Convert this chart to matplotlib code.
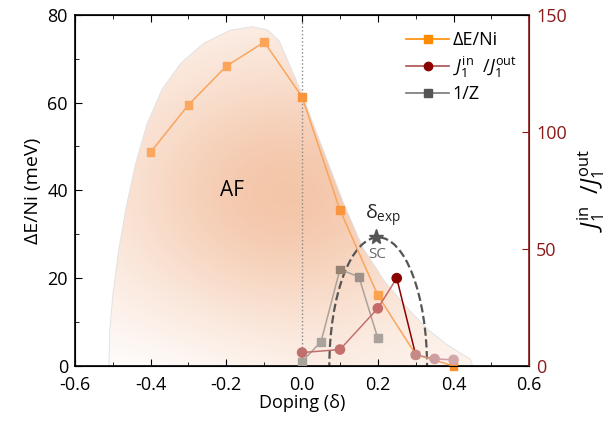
import numpy as np
import matplotlib
matplotlib.use("Agg")
import matplotlib.pyplot as plt
from matplotlib.patches import Polygon, Ellipse
from matplotlib.lines import Line2D
from matplotlib.ticker import MultipleLocator

plt.rcParams['font.family'] = ['Open Sans', 'DejaVu Sans']
plt.rcParams['mathtext.fontset'] = 'custom'
plt.rcParams['mathtext.rm'] = 'Open Sans'
plt.rcParams['mathtext.it'] = 'Open Sans:italic'

# data
dop_dE = [-0.4, -0.3, -0.2, -0.1, 0.0, 0.1, 0.2, 0.3, 0.4]
dE = [48.7, 59.5, 68.3, 73.8, 61.3, 35.5, 16.1, 2.6, 0.0]

dop_J = [0.0, 0.1, 0.2, 0.25, 0.3, 0.35, 0.4]
J_ratio = [5.7, 7.0, 24.6, 37.5, 4.7, 3.0, 2.6]

dop_Z = [0.0, 0.05, 0.1, 0.15, 0.2]
invZ = [1.0, 5.5, 22.0, 20.3, 6.3]

delta_exp = (0.195, 29.3)
sc_left, sc_right = 0.072, 0.33

# AF region outline (doping, meV)
af_x = [-0.51, -0.508, -0.50, -0.485, -0.465, -0.44, -0.41, -0.37, -0.32, -0.26,
        -0.19, -0.13, -0.09, -0.06, -0.03, 0.0, 0.03, 0.07, 0.11, 0.16, 0.22,
        0.28, 0.33, 0.38, 0.42, 0.445, 0.45]
af_y = [0, 8, 16, 26, 36, 46, 55, 63, 69, 73.5, 76.5, 77.3, 76.5, 74, 68, 62,
        55, 46, 37, 27, 19, 13, 8.5, 5, 2.8, 1.5, 0]

dE_colors = ['#fba85e', '#fba85e', '#fba55a', '#fba55a', '#f9963d', '#f9963d',
             '#fba24f', '#fba55a', '#f98f2a']
J_colors = ['#c0706c', '#c4716e', '#c46a68', '#8b0000', '#c48a88', '#cf9ea0', '#d4a8aa']
Z_colors = ['#a8a29c', '#aaa39d', '#96806f', '#a0908a', '#aaa29c']
dark_red = '#8b1a1a'

fig = plt.figure(figsize=(6.14, 4.24), dpi=100)
ax = fig.add_axes([0.122, 0.137, 0.740, 0.828])
ax2 = ax.twinx()

ax.set_xlim(-0.6, 0.6)
ax.set_ylim(0, 80)
ax2.set_ylim(0, 150)

# AF shaded region with radial gradient
gx, gy = np.meshgrid(np.linspace(-0.6, 0.6, 400), np.linspace(0, 80, 300))
t = np.exp(-((gx + 0.05) / 0.45) ** 2 - ((gy - 39) / 31) ** 2)
peak = np.array([244, 198, 169]) / 255.0
fade = np.clip(1 - np.exp(-(gy + 2) / 10) * np.clip((-gx + 0.1) / 0.6, 0, 1), 0, 1)
w = (0.15 + 0.85 * t) * fade
rgb = 1 - w[..., None] * (1 - peak)
im = ax.imshow(rgb, extent=(-0.6, 0.6, 0, 80), origin='lower', aspect='auto', zorder=0)
blob = Polygon(np.column_stack([af_x, af_y]), closed=True, facecolor='none',
               edgecolor='#e2e2e2', lw=0.7, zorder=0.5)
ax.add_patch(blob)
im.set_clip_path(blob)

ax.axvline(0, color='#888888', ls=':', lw=1, zorder=1)
ax.text(-0.185, 40, 'AF', fontsize=15, ha='center', va='center')

# SC dome
dome = Ellipse(((sc_left + sc_right) / 2, 0), sc_right - sc_left, 2 * delta_exp[1],
               fill=False, ls='--', lw=1.6, color='#555555', zorder=2)
ax.add_patch(dome)
ax.plot(*delta_exp, marker='*', ms=11, color='#555555', zorder=6)
ax.text(delta_exp[0] + 0.02, delta_exp[1] + 2.0, r'δ$_{\rm exp}$', fontsize=14,
        ha='center', va='bottom', color='#222222')
ax.text(delta_exp[0] + 0.003, delta_exp[1] - 2.3, 'SC', fontsize=11,
        ha='center', va='top', color='#666666')

# ΔE/Ni
ax.plot(dop_dE, dE, color='#f9a55e', lw=1.1, zorder=3)
ax.scatter(dop_dE, dE, marker='s', s=30, c=dE_colors, zorder=4, clip_on=False)

# 1/Z
for i in range(len(dop_Z) - 1):
    ax.plot(dop_Z[i:i + 2], invZ[i:i + 2], color='#aaa29c', lw=1.1, zorder=3)
ax.scatter(dop_Z, invZ, marker='s', s=30, c=Z_colors, zorder=4, clip_on=False)

# J ratio
for i in range(len(dop_J) - 1):
    ax2.plot(dop_J[i:i + 2], J_ratio[i:i + 2], color=J_colors[i], lw=1.1, zorder=3)
ax2.scatter(dop_J, J_ratio, marker='o', s=44, c=J_colors, zorder=4, clip_on=False)

# axes styling
ax.xaxis.set_major_locator(MultipleLocator(0.2))
ax.xaxis.set_minor_locator(MultipleLocator(0.1))
ax.yaxis.set_major_locator(MultipleLocator(20))
ax.yaxis.set_minor_locator(MultipleLocator(10))
ax.set_xticks(np.arange(-0.6, 0.61, 0.2))
ax.set_xticklabels(['-0.6', '-0.4', '-0.2', '0.0', '0.2', '0.4', '0.6'])
ax.tick_params(which='both', direction='in', top=True, labelsize=13)
ax.tick_params(axis='x', pad=7)
ax.tick_params(axis='y', pad=5)
ax.tick_params(which='major', length=5)
ax.tick_params(which='minor', length=3)
ax.set_xlabel('Doping (δ)', fontsize=13, labelpad=0)
ax.set_ylabel('ΔE/Ni (meV)', fontsize=14, labelpad=4)

ax2.yaxis.set_major_locator(MultipleLocator(50))
ax2.tick_params(axis='y', direction='in', length=5, colors=dark_red, labelsize=13, pad=5)
ax2.spines['right'].set_color(dark_red)
ax2.spines['right'].set_linewidth(1.2)
ax2.set_ylabel(r'$J_1^{\rm in}$  /$J_1^{\rm out}$', fontsize=17, labelpad=6)
for s in ['left', 'top', 'bottom']:
    ax.spines[s].set_linewidth(1.2)

handles = [
    Line2D([], [], color='#ff8c00', marker='s', ms=6, lw=1.2),
    Line2D([], [], color='#a85050', marker='o', mfc='#8b0000', mec='#8b0000', ms=6, lw=1.2),
    Line2D([], [], color='#777777', marker='s', mfc='#555555', mec='#555555', ms=6, lw=1.2),
]
labels = ['ΔE/Ni', r'$J_1^{\rm in}$  /$J_1^{\rm out}$', '1/Z']
ax2.legend(handles, labels, loc='upper right', frameon=False, fontsize=13,
           handlelength=2.4, handletextpad=0.2, labelspacing=0.3,
           borderaxespad=0.3, bbox_to_anchor=(1.0, 0.99))

fig.savefig('out.png', dpi=100)
